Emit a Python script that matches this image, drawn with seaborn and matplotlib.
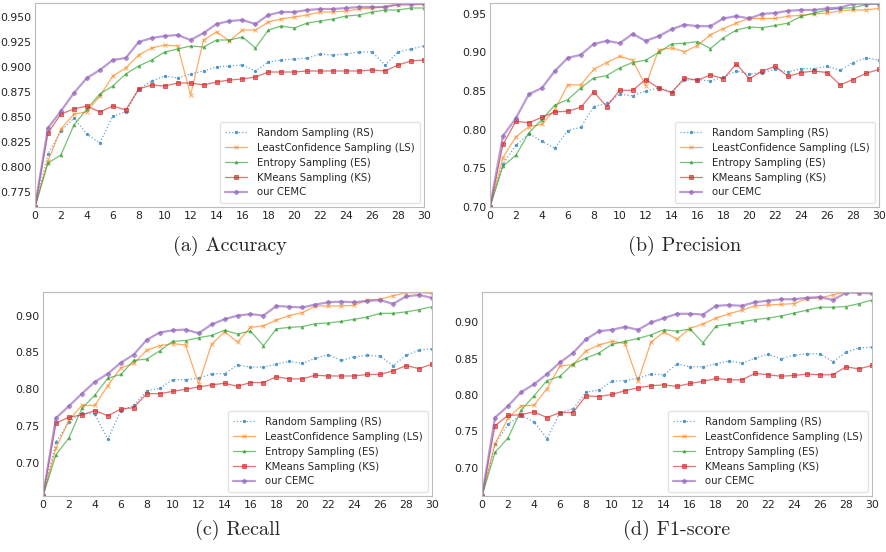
import numpy as np
import pandas as pd
import seaborn as sns
import matplotlib.pyplot as plt

# rounds of querying (x axis)
rounds = list(range(31))

methods = ['Random Sampling (RS)', 'LeastConfidence Sampling (LS)',
           'Entropy Sampling (ES)', 'KMeans Sampling (KS)', 'our CEMC']

# ---- (a) Accuracy
acc_rs = [0.760, 0.813, 0.836, 0.849, 0.833, 0.824, 0.851, 0.855, 0.878, 0.886, 0.891,
          0.889, 0.893, 0.896, 0.900, 0.901, 0.902, 0.896, 0.905, 0.907, 0.908,
          0.909, 0.913, 0.912, 0.913, 0.915, 0.915, 0.902, 0.915, 0.918, 0.921]
acc_ls = [0.760, 0.806, 0.838, 0.853, 0.855, 0.871, 0.891, 0.899, 0.912, 0.919, 0.922,
          0.921, 0.872, 0.927, 0.935, 0.926, 0.937, 0.937, 0.945, 0.948, 0.950,
          0.952, 0.955, 0.955, 0.956, 0.958, 0.959, 0.960, 0.962, 0.962, 0.963]
acc_es = [0.760, 0.804, 0.812, 0.842, 0.858, 0.873, 0.881, 0.893, 0.901, 0.907, 0.915,
          0.918, 0.921, 0.920, 0.927, 0.927, 0.930, 0.919, 0.937, 0.941, 0.939,
          0.944, 0.946, 0.948, 0.951, 0.952, 0.955, 0.957, 0.957, 0.959, 0.959]
acc_ks = [0.760, 0.834, 0.853, 0.858, 0.861, 0.855, 0.861, 0.857, 0.878, 0.882, 0.881,
          0.884, 0.884, 0.882, 0.885, 0.887, 0.888, 0.890, 0.895, 0.895, 0.895,
          0.896, 0.896, 0.896, 0.896, 0.896, 0.897, 0.896, 0.902, 0.906, 0.907]
acc_cemc = [0.760, 0.839, 0.856, 0.874, 0.889, 0.897, 0.907, 0.909, 0.925, 0.929, 0.931,
            0.932, 0.927, 0.934, 0.943, 0.946, 0.947, 0.943, 0.952, 0.955, 0.955,
            0.957, 0.958, 0.958, 0.959, 0.960, 0.960, 0.960, 0.963, 0.963, 0.963]

# ---- (b) Precision
pre_rs = [0.700, 0.756, 0.780, 0.795, 0.785, 0.776, 0.799, 0.803, 0.830, 0.834, 0.846,
          0.844, 0.850, 0.854, 0.849, 0.864, 0.865, 0.863, 0.868, 0.876, 0.872,
          0.874, 0.878, 0.875, 0.879, 0.879, 0.882, 0.877, 0.887, 0.893, 0.890]
pre_ls = [0.700, 0.764, 0.791, 0.804, 0.807, 0.826, 0.858, 0.858, 0.878, 0.887, 0.895,
          0.890, 0.857, 0.903, 0.906, 0.901, 0.909, 0.923, 0.931, 0.938, 0.944,
          0.944, 0.944, 0.947, 0.948, 0.950, 0.951, 0.954, 0.955, 0.955, 0.957]
pre_es = [0.700, 0.753, 0.767, 0.796, 0.813, 0.832, 0.839, 0.854, 0.867, 0.870, 0.880,
          0.887, 0.890, 0.900, 0.911, 0.912, 0.914, 0.905, 0.919, 0.929, 0.933,
          0.932, 0.935, 0.938, 0.947, 0.951, 0.955, 0.957, 0.958, 0.962, 0.963]
pre_ks = [0.700, 0.781, 0.811, 0.809, 0.816, 0.823, 0.824, 0.829, 0.849, 0.830, 0.851,
          0.851, 0.865, 0.854, 0.848, 0.867, 0.864, 0.871, 0.866, 0.885, 0.866,
          0.876, 0.882, 0.869, 0.874, 0.876, 0.874, 0.858, 0.865, 0.873, 0.878]
pre_cemc = [0.700, 0.792, 0.815, 0.846, 0.854, 0.876, 0.893, 0.897, 0.911, 0.915, 0.912,
            0.924, 0.915, 0.921, 0.930, 0.936, 0.934, 0.934, 0.944, 0.947, 0.944,
            0.950, 0.951, 0.954, 0.955, 0.955, 0.957, 0.958, 0.963, 0.963, 0.963]

# ---- (c) Recall
rec_rs = [0.655, 0.728, 0.755, 0.768, 0.766, 0.732, 0.771, 0.778, 0.798, 0.801, 0.813,
          0.813, 0.815, 0.821, 0.821, 0.833, 0.830, 0.830, 0.834, 0.838, 0.835,
          0.842, 0.847, 0.839, 0.844, 0.846, 0.845, 0.832, 0.846, 0.853, 0.855]
rec_ls = [0.655, 0.720, 0.758, 0.778, 0.778, 0.805, 0.829, 0.835, 0.853, 0.859, 0.862,
          0.860, 0.807, 0.861, 0.878, 0.864, 0.884, 0.886, 0.894, 0.900, 0.904,
          0.913, 0.913, 0.913, 0.914, 0.921, 0.922, 0.927, 0.931, 0.931, 0.930]
rec_es = [0.655, 0.711, 0.734, 0.774, 0.792, 0.815, 0.820, 0.839, 0.841, 0.852, 0.865,
          0.866, 0.870, 0.873, 0.880, 0.875, 0.879, 0.859, 0.882, 0.884, 0.885,
          0.889, 0.890, 0.892, 0.895, 0.898, 0.903, 0.903, 0.905, 0.908, 0.912]
rec_ks = [0.655, 0.754, 0.762, 0.765, 0.771, 0.764, 0.773, 0.775, 0.794, 0.794, 0.797,
          0.800, 0.803, 0.806, 0.808, 0.804, 0.809, 0.809, 0.817, 0.814, 0.814,
          0.819, 0.818, 0.818, 0.818, 0.820, 0.820, 0.825, 0.832, 0.828, 0.834]
rec_cemc = [0.655, 0.761, 0.777, 0.794, 0.810, 0.821, 0.836, 0.847, 0.867, 0.877, 0.880,
            0.881, 0.876, 0.888, 0.895, 0.900, 0.902, 0.900, 0.913, 0.912, 0.911,
            0.915, 0.918, 0.919, 0.918, 0.920, 0.921, 0.916, 0.926, 0.928, 0.924]

# ---- (d) F1-score
f1_rs = [0.661, 0.732, 0.760, 0.772, 0.763, 0.740, 0.776, 0.781, 0.804, 0.807, 0.819,
         0.820, 0.823, 0.829, 0.828, 0.843, 0.839, 0.839, 0.843, 0.847, 0.844,
         0.851, 0.856, 0.850, 0.855, 0.857, 0.857, 0.846, 0.859, 0.865, 0.866]
f1_ls = [0.661, 0.733, 0.768, 0.785, 0.786, 0.809, 0.840, 0.842, 0.861, 0.869, 0.874,
         0.871, 0.819, 0.873, 0.887, 0.877, 0.892, 0.898, 0.906, 0.912, 0.917,
         0.923, 0.924, 0.925, 0.926, 0.933, 0.934, 0.938, 0.942, 0.941, 0.941]
f1_es = [0.661, 0.721, 0.741, 0.779, 0.799, 0.820, 0.826, 0.843, 0.851, 0.858, 0.870,
         0.874, 0.878, 0.883, 0.890, 0.888, 0.891, 0.872, 0.895, 0.898, 0.901,
         0.904, 0.906, 0.909, 0.913, 0.917, 0.921, 0.921, 0.922, 0.926, 0.931]
f1_ks = [0.661, 0.758, 0.772, 0.773, 0.777, 0.769, 0.776, 0.776, 0.799, 0.798, 0.801,
         0.806, 0.810, 0.813, 0.814, 0.812, 0.816, 0.819, 0.823, 0.821, 0.821,
         0.830, 0.828, 0.826, 0.827, 0.829, 0.828, 0.828, 0.839, 0.836, 0.841]
f1_cemc = [0.661, 0.769, 0.785, 0.804, 0.815, 0.829, 0.845, 0.858, 0.877, 0.888, 0.890,
           0.894, 0.890, 0.900, 0.906, 0.912, 0.912, 0.911, 0.923, 0.924, 0.923,
           0.928, 0.930, 0.932, 0.932, 0.934, 0.935, 0.931, 0.941, 0.941, 0.940]

panels = [
    ('(a) Accuracy', [acc_rs, acc_ls, acc_es, acc_ks, acc_cemc]),
    ('(b) Precision', [pre_rs, pre_ls, pre_es, pre_ks, pre_cemc]),
    ('(c) Recall', [rec_rs, rec_ls, rec_es, rec_ks, rec_cemc]),
    ('(d) F1-score', [f1_rs, f1_ls, f1_es, f1_ks, f1_cemc]),
]

# line styles for each method
palette = sns.color_palette('tab10')
styles = {
    'Random Sampling (RS)': dict(color=palette[0], marker='.', linestyle=':', lw=0.9, ms=3.5),
    'LeastConfidence Sampling (LS)': dict(color=palette[1], marker='x', linestyle='-', lw=0.9, ms=2.5),
    'Entropy Sampling (ES)': dict(color=palette[2], marker='^', linestyle='-', lw=0.9, ms=2),
    'KMeans Sampling (KS)': dict(color=palette[3], marker='s', linestyle='-', lw=0.9, ms=2.5),
    'our CEMC': dict(color=palette[4], marker='P', linestyle='-', lw=1.6, ms=3),
}

# axes boxes in pixel units (left, top, right, bottom) of an 887x552 canvas
W, H = 887, 552
boxes = [(35, 3, 424, 207), (490, 3, 879, 207),
         (43, 292, 432, 496), (482, 292, 872, 496)]
ylims = [(0.760, 0.964), (0.700, 0.964), (0.655, 0.932), (0.661, 0.942)]
ytick_sets = [np.arange(0.775, 0.951, 0.025), np.arange(0.70, 0.951, 0.05),
              np.arange(0.70, 0.901, 0.05), np.arange(0.70, 0.901, 0.05)]
ytick_fmt = ['{:.3f}', '{:.2f}', '{:.2f}', '{:.2f}']
caption_y = [246, 530]

sns.set_style('white')
fig = plt.figure(figsize=(W / 100, H / 100), dpi=100)

for i, (caption, series) in enumerate(panels):
    l, t, r, b = boxes[i]
    ax = fig.add_axes([l / W, 1 - b / H, (r - l) / W, (b - t) / H])

    df = pd.DataFrame({'round': rounds * len(methods),
                       'value': sum(series, []),
                       'method': sum([[m] * len(rounds) for m in methods], [])})

    for m in methods:
        st = styles[m]
        sns.lineplot(data=df[df['method'] == m], x='round', y='value', ax=ax,
                     color=st['color'], marker=st['marker'], linestyle=st['linestyle'],
                     linewidth=st['lw'], markersize=st['ms'], markeredgewidth=0.7,
                     markeredgecolor=st['color'], alpha=0.65, label=m)

    ax.set_xlim(0, 30)
    ax.set_ylim(*ylims[i])
    ax.set_xticks(range(0, 31, 2))
    ax.set_yticks(ytick_sets[i])
    ax.set_yticklabels([ytick_fmt[i].format(v) for v in ytick_sets[i]])
    ax.tick_params(labelsize=7.8, length=1.5, pad=1.2, colors='#222222')
    ax.set_xlabel('')
    ax.set_ylabel('')
    for sp in ax.spines.values():
        sp.set_color('#bbbbbb')
        sp.set_linewidth(0.8)

    leg = ax.legend(loc='lower right', fontsize=7.3, frameon=True, handlelength=2.2,
                    borderaxespad=0.4, labelspacing=0.48, borderpad=0.55,
                    handletextpad=0.9)
    leg.get_frame().set_edgecolor('#dddddd')

    cx = (l + r) / 2 / W
    cy = 1 - caption_y[i // 2] / H
    fig.text(cx, cy, caption, ha='center', va='center', fontsize=14.5,
             family=['cmr10', 'DejaVu Serif'])

plt.savefig('out.png', dpi=100)
plt.close()
